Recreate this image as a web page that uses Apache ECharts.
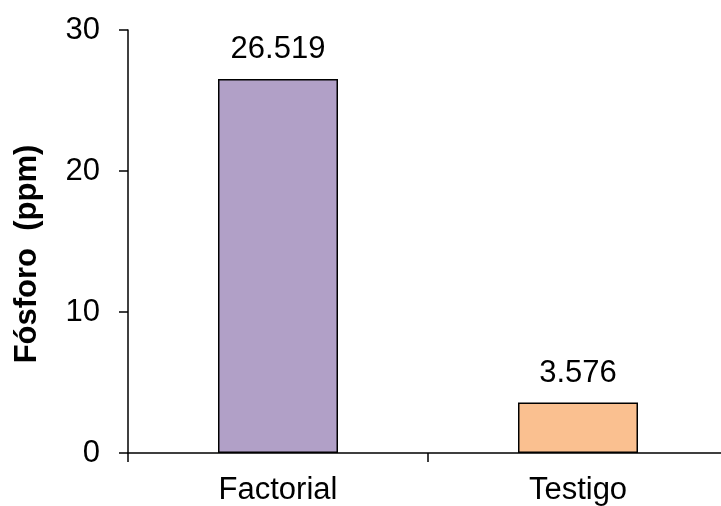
<!DOCTYPE html>
<html>
<head>
<meta charset="utf-8">
<script src="https://cdn.jsdelivr.net/npm/echarts@6/dist/echarts.min.js"></script>
<style>
  html, body { margin: 0; padding: 0; background: #fff; }
  #chart { width: 721px; height: 506px; }
</style>
</head>
<body>
<div id="chart"></div>
<script>
// datos
var categorias = ["Factorial", "Testigo"];
var fosforo = [26.519, 3.576];
var colores = ["#B1A0C7", "#FAC090"];
var yTicks = [0, 10, 20, 30];

var chart = echarts.init(document.getElementById('chart'));
var fuente = "'Liberation Sans', Arial, sans-serif";

var option = {
  backgroundColor: "#fff",
  animation: false,
  grid: {
    left: 128,
    top: 30,
    width: 600,
    height: 423,
    outerBoundsMode: "none"
  },
  xAxis: {
    type: "category",
    data: categorias,
    axisLine: { lineStyle: { color: "#000", width: 1.5 } },
    axisTick: { show: true, length: 9, lineStyle: { color: "#000", width: 1.5 } },
    axisLabel: {
      color: "#000",
      fontSize: 31,
      fontFamily: fuente,
      margin: 22
    }
  },
  yAxis: {
    type: "value",
    min: yTicks[0],
    max: yTicks[yTicks.length - 1],
    interval: 10,
    name: "Fósforo  (ppm)",
    nameLocation: "middle",
    nameGap: 85,
    nameTextStyle: {
      color: "#000",
      fontSize: 31,
      fontWeight: "bold",
      fontFamily: fuente,
      padding: [0, 25, 0, 0]
    },
    splitLine: { show: false },
    axisLine: { show: true, lineStyle: { color: "#000", width: 1.5 } },
    axisTick: { show: true, length: 9, lineStyle: { color: "#000", width: 1.5 } },
    axisLabel: {
      color: "#000",
      fontSize: 31,
      fontFamily: fuente,
      margin: 28
    }
  },
  series: [{
    type: "bar",
    barWidth: "40%",
    data: fosforo.map(function (v, i) {
      return { value: v, itemStyle: { color: colores[i] } };
    }),
    itemStyle: { borderColor: "#000", borderWidth: 1.5 },
    label: {
      show: true,
      position: "top",
      distance: 14,
      color: "#000",
      fontSize: 31,
      fontFamily: fuente,
      formatter: function (p) { return p.value.toFixed(3); }
    }
  }]
};

chart.setOption(option);
</script>
</body>
</html>
